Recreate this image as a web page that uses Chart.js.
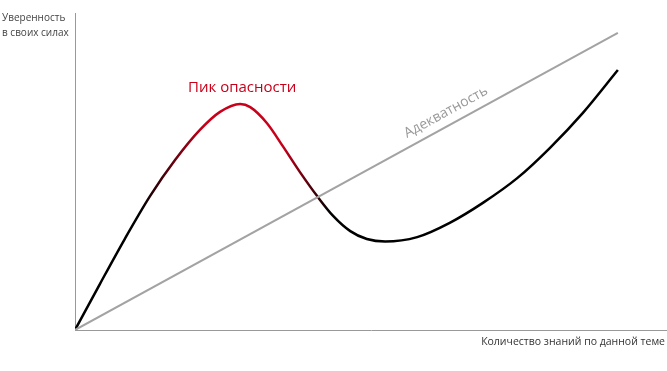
<!DOCTYPE html>
<html>
<head>
<meta charset="utf-8">
<script src="https://cdn.jsdelivr.net/npm/chart.js@4"></script>
<style>
  html, body { margin: 0; padding: 0; background: #fff; }
  #wrap { width: 667px; height: 371px; }
</style>
</head>
<body>
<div id="wrap"><canvas id="chart"></canvas></div>
<script>
// Кривая уверенности (знания 0..100, уверенность 0..100)
const knowledge = [0, 4.2, 8.4, 12.7, 16.9, 21.1, 24.5, 27.9, 29.6, 32.4, 35.1, 38.0, 41.0, 43.6, 46.5, 49.3, 52.4, 57.8, 63.3, 68.9, 74.7, 80.2, 85.8, 91.7];
const confidence = [0, 14.5, 28.7, 42.3, 53.6, 63.1, 68.8, 71.3, 70.3, 65.3, 58.0, 49.8, 42.0, 36.0, 31.2, 28.7, 27.9, 29.3, 33.8, 40.1, 47.9, 57.4, 68.5, 82.0];
// Линия адекватности
const adequacyX = [0, 91.7];
const adequacyY = [0, 93.7];
// Подписи
const yAxisLabel = ['Уверенность', 'в своих силах'];
const xAxisLabel = 'Количество знаний по данной теме';
const peakLabel = 'Пик опасности';
const peakIndex = 7;
const adequacyLabel = 'Адекватность';
// участок кривой, окрашенный красным
const redFrom = 11, redPeakFrom = 22, redPeakTo = 35, redTo = 43;

const RED = '#c8001a';

function curveGradient(ctx) {
  const chart = ctx.chart;
  const { chartArea } = chart;
  if (!chartArea) return '#000';
  const xs = chart.scales.x;
  const g = chart.ctx.createLinearGradient(chartArea.left, 0, chartArea.right, 0);
  const w = chartArea.right - chartArea.left;
  const stop = v => Math.min(1, Math.max(0, (xs.getPixelForValue(v) - chartArea.left) / w));
  g.addColorStop(0, '#000');
  g.addColorStop(stop(redFrom), '#000');
  g.addColorStop(stop(redPeakFrom), RED);
  g.addColorStop(stop(redPeakTo), RED);
  g.addColorStop(stop(redTo), '#000');
  g.addColorStop(1, '#000');
  return g;
}

const labelsPlugin = {
  id: 'labels',
  afterDraw(chart) {
    const c = chart.ctx;
    const xs = chart.scales.x, ys = chart.scales.y;
    c.save();
    c.textBaseline = 'middle';
    // подпись оси Y
    c.font = '10px "Open Sans", sans-serif';
    c.fillStyle = '#444';
    c.textAlign = 'left';
    c.fillText(yAxisLabel[0], 2, 18);
    c.fillText(yAxisLabel[1], 2, 33);
    // подпись оси X
    c.font = '10.5px "Open Sans", sans-serif';
    c.fillStyle = '#333';
    c.textAlign = 'right';
    c.fillText(xAxisLabel, 665, 342);
    // пик опасности
    c.font = '15px "Open Sans", sans-serif';
    c.fillStyle = RED;
    c.textAlign = 'center';
    c.fillText(peakLabel, xs.getPixelForValue(knowledge[peakIndex]) + 2, ys.getPixelForValue(confidence[peakIndex]) - 16);
    // адекватность вдоль линии
    const x0 = xs.getPixelForValue(adequacyX[0]), y0 = ys.getPixelForValue(adequacyY[0]);
    const x1 = xs.getPixelForValue(adequacyX[1]), y1 = ys.getPixelForValue(adequacyY[1]);
    const ang = Math.atan2(y1 - y0, x1 - x0);
    const t = 0.695;
    c.translate(x0 + (x1 - x0) * t, y0 + (y1 - y0) * t);
    c.rotate(ang);
    c.font = '14px "Open Sans", sans-serif';
    c.fillStyle = '#999';
    c.fillText(adequacyLabel, 0, -13);
    c.restore();
  }
};

new Chart(document.getElementById('chart'), {
  type: 'line',
  data: {
    datasets: [
      {
        data: adequacyX.map((x, i) => ({ x, y: adequacyY[i] })),
        borderColor: '#a3a3a3',
        borderWidth: 2,
        pointRadius: 0,
        tension: 0
      },
      {
        data: knowledge.map((x, i) => ({ x, y: confidence[i] })),
        borderColor: curveGradient,
        borderWidth: 2.5,
        pointRadius: 0,
        cubicInterpolationMode: 'monotone'
      }
    ]
  },
  options: {
    responsive: true,
    maintainAspectRatio: false,
    animation: false,
    layout: { padding: { left: 75, top: 13, right: 0, bottom: 41 } },
    plugins: { legend: { display: false }, tooltip: { enabled: false } },
    scales: {
      x: {
        type: 'linear', min: 0, max: 100,
        ticks: { display: false },
        grid: { display: false, drawTicks: false, tickLength: 0 },
        border: { display: true, color: '#999', width: 1 }
      },
      y: {
        min: 0, max: 100,
        ticks: { display: false },
        grid: { display: false, drawTicks: false, tickLength: 0 },
        border: { display: true, color: '#999', width: 1 }
      }
    }
  },
  plugins: [labelsPlugin]
});
</script>
</body>
</html>
